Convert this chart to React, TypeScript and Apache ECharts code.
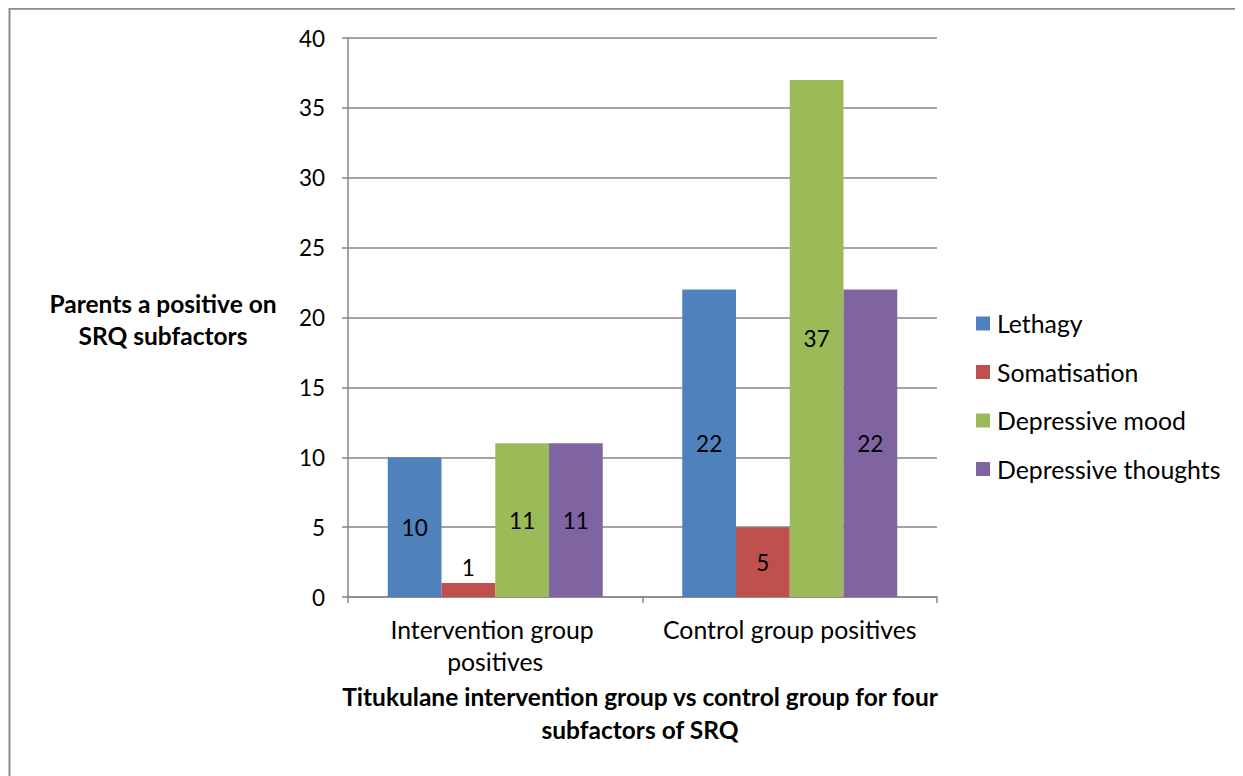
import React, { useEffect, useRef } from "react";
import * as echarts from "echarts";

const categories = ["Intervention group positives", "Control group positives"];
const seriesNames = ["Lethagy", "Somatisation", "Depressive mood", "Depressive thoughts"];
const lethagy = [10, 22];
const somatisation = [1, 5];
const depressiveMood = [11, 37];
const depressiveThoughts = [11, 22];
const yTicks = { min: 0, max: 40, interval: 5 };
const yTitle = "Parents a positive on\nSRQ subfactors";
const xTitle = "Titukulane intervention group vs control group for four\nsubfactors of SRQ";

const colors = ["#4F81BD", "#C0504D", "#9BBB59", "#8064A2"];
const FONT = "Lato, 'Open Sans', sans-serif";

export default function App() {
  const ref = useRef<HTMLDivElement>(null);
  useEffect(() => {
    if (!ref.current) return;
    const chart = echarts.init(ref.current, null, { renderer: "svg" });
    const values = [lethagy, somatisation, depressiveMood, depressiveThoughts];
    chart.setOption({
      animation: false,
      textStyle: { fontFamily: FONT },
      grid: { left: 340, right: 306, top: 30, bottom: 179 },
      legend: {
        orient: "vertical",
        left: 963,
        top: 298,
        itemWidth: 14,
        itemHeight: 14,
        itemGap: 23.5,
        icon: "rect",
        textStyle: { fontSize: 24.8, color: "#000", fontFamily: FONT, lineHeight: 22, padding: [0, 0, 0, 2] },
        data: seriesNames,
      },
      xAxis: {
        type: "category",
        data: categories,
        axisLine: { lineStyle: { color: "#868686", width: 1.5 } },
        axisTick: { show: true, length: 6, lineStyle: { color: "#868686", width: 1.5 } },
        axisLabel: {
          color: "#000",
          fontSize: 24.8,
          fontFamily: FONT,
          lineHeight: 32,
          margin: 16,
          width: 275,
          overflow: "break",
          interval: 0,
        },
      },
      yAxis: {
        type: "value",
        min: yTicks.min,
        max: yTicks.max,
        interval: yTicks.interval,
        axisLine: { show: true, lineStyle: { color: "#868686", width: 1.5 } },
        axisTick: { show: true, length: 6, lineStyle: { color: "#868686", width: 1.5 } },
        splitLine: { show: true, lineStyle: { color: "#868686", width: 1.5 } },
        axisLabel: { color: "#000", fontSize: 22.5, fontFamily: FONT, margin: 23 },
      },
      series: seriesNames.map((name, i) => ({
        name,
        type: "bar",
        barGap: "0%",
        barCategoryGap: "27%",
        itemStyle: { color: colors[i] },
        label: {
          show: true,
          position: "inside",
          color: "#000",
          fontSize: 22.5,
          fontFamily: FONT,
        },
        data: values[i].map((v) =>
          v < 3 ? { value: v, label: { position: "top", distance: 4 } } : v
        ),
      })),
      graphic: [
        {
          type: "rect",
          shape: { x: 1.5, y: 0.8, width: 3000, height: 3000 },
          style: { fill: "none", stroke: "#8c8c8c", lineWidth: 2 },
          silent: true,
        },
        {
          type: "text",
          x: 155,
          y: 311,
          style: {
            text: yTitle,
            fontSize: 24.5,
            fontWeight: "bold",
            fontFamily: FONT,
            fill: "#000",
            align: "center",
            verticalAlign: "middle",
            lineHeight: 32,
          },
        },
        {
          type: "text",
          x: 632,
          y: 705,
          style: {
            text: xTitle,
            fontSize: 24.5,
            fontWeight: "bold",
            fontFamily: FONT,
            fill: "#000",
            align: "center",
            verticalAlign: "middle",
            lineHeight: 33,
          },
        },
      ],
    });
    return () => chart.dispose();
  }, []);
  return <div ref={ref} style={{ width: 1235, height: 768 }} />;
}
